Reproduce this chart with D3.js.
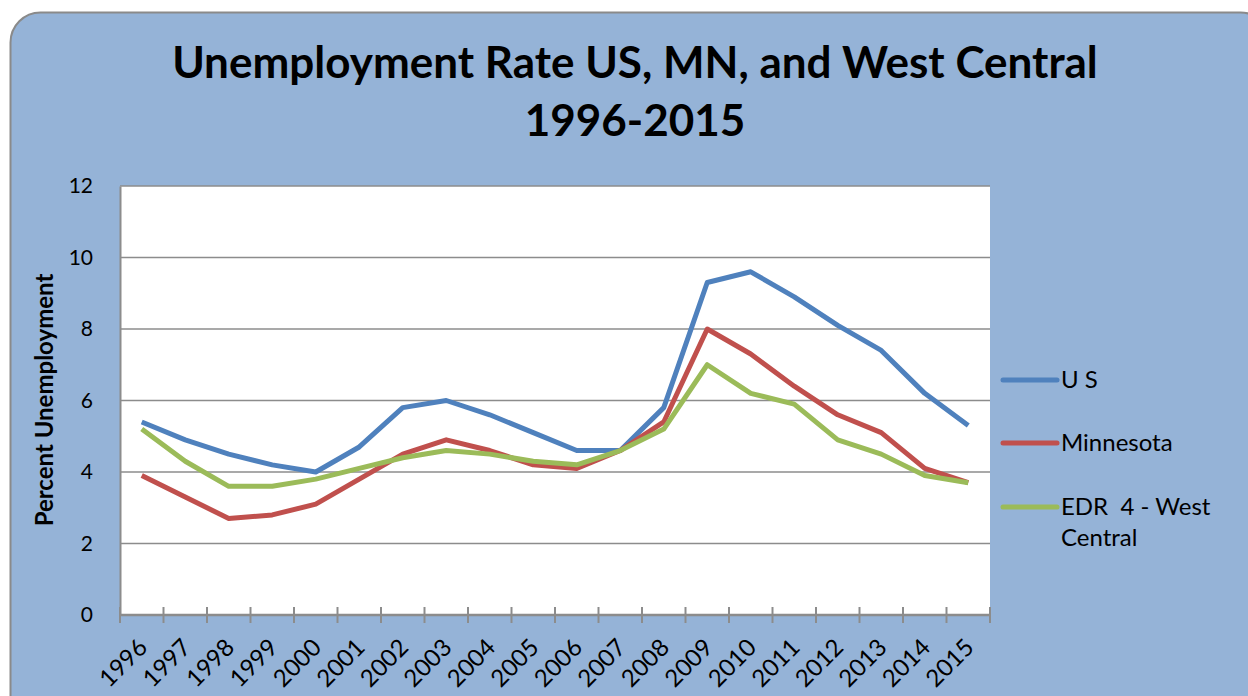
<!DOCTYPE html>
<html><head><meta charset="utf-8">
<script src="https://cdn.jsdelivr.net/npm/d3@7"></script>
<style>body{margin:0;background:#fff;}svg{display:block;font-family:Lato,"Open Sans",sans-serif;}</style>
</head><body>
<svg id="c" width="1248" height="696"></svg>
<script>
const years = ["1996","1997","1998","1999","2000","2001","2002","2003","2004","2005","2006","2007","2008","2009","2010","2011","2012","2013","2014","2015"];
const usValues = [5.4,4.9,4.5,4.2,4.0,4.7,5.8,6.0,5.6,5.1,4.6,4.6,5.8,9.3,9.6,8.9,8.1,7.4,6.2,5.3];
const mnValues = [3.9,3.3,2.7,2.8,3.1,3.8,4.5,4.9,4.6,4.2,4.1,4.6,5.4,8.0,7.3,6.4,5.6,5.1,4.1,3.7];
const wcValues = [5.2,4.3,3.6,3.6,3.8,4.1,4.4,4.6,4.5,4.3,4.2,4.6,5.2,7.0,6.2,5.9,4.9,4.5,3.9,3.7];
const seriesNames = ["U S","Minnesota","EDR  4 - West Central"];
const seriesColors = ["#4F81BD","#C0504D","#9BBB59"];
const yTicks = [0,2,4,6,8,10,12];
const titleLines = ["Unemployment Rate US, MN, and West Central","1996-2015"];
const yLabel = "Percent Unemployment";

const svg = d3.select("#c");
svg.append("rect").attr("x",10.5).attr("y",12.5).attr("width",1260).attr("height",720)
  .attr("rx",30).attr("fill","#95B3D7").attr("stroke","#8a8a8a").attr("stroke-width",2);

const L=120,R=990,T=186,B=615;
const x = d3.scaleBand().domain(years).range([L,R]).padding(0);
const y = d3.scaleLinear().domain([0,12]).range([B,T]);

svg.append("rect").attr("x",L).attr("y",T).attr("width",R-L).attr("height",B-T).attr("fill","#fff");

// gridlines
svg.append("g").selectAll("line").data(yTicks.filter(d=>d>0)).join("line")
  .attr("x1",L).attr("x2",R).attr("y1",d=>y(d)).attr("y2",d=>y(d))
  .attr("stroke","#8c8c8c").attr("stroke-width",1.5);

// y axis
const ya = svg.append("g").attr("transform",`translate(${L},0)`)
  .call(d3.axisLeft(y).tickValues(yTicks).tickSize(0).tickPadding(27));
ya.select(".domain").attr("stroke","#8c8c8c").attr("stroke-width",2);
ya.selectAll("text").attr("font-size",21).attr("fill","#000").attr("font-family","Lato,'Open Sans',sans-serif");

// x axis
const xa = svg.append("g").attr("transform",`translate(0,${B})`);
xa.append("line").attr("x1",L).attr("x2",R).attr("stroke","#8c8c8c").attr("stroke-width",2.5);
const edges = years.map(d=>x(d)).concat([R]);
xa.selectAll("line.tk").data(edges).join("line").attr("class","tk")
  .attr("x1",d=>d).attr("x2",d=>d).attr("y1",-8).attr("y2",8)
  .attr("stroke","#8c8c8c").attr("stroke-width",2);
xa.selectAll("text").data(years).join("text")
  .attr("transform",d=>`translate(${x(d)+x.bandwidth()/2+7},${34}) rotate(-45)`)
  .attr("text-anchor","end").attr("font-size",24).attr("fill","#000").text(d=>d);

// lines
const allSeries = [usValues,mnValues,wcValues];
const line = d3.line().x((d,i)=>x(years[i])+x.bandwidth()/2).y(d=>y(d));
allSeries.forEach((vals,k)=>{
  svg.append("path").datum(vals).attr("d",line).attr("fill","none")
    .attr("stroke",seriesColors[k]).attr("stroke-width",5).attr("stroke-linejoin","round");
});

// legend
const legY=[380,443,507];
seriesNames.forEach((n,k)=>{
  svg.append("line").attr("x1",1003).attr("x2",1057).attr("y1",legY[k]).attr("y2",legY[k])
    .attr("stroke",seriesColors[k]).attr("stroke-width",5).attr("stroke-linecap","round");
  const t = svg.append("text").attr("x",1061).attr("y",legY[k]+8).attr("font-size",24).attr("fill","#000");
  if(k===2){
    t.append("tspan").attr("x",1061).text("EDR\u00a0 4 - West");
    t.append("tspan").attr("x",1061).attr("dy",31).text("Central");
  } else t.text(n);
});

// title
svg.append("text").attr("x",635).attr("y",78).attr("text-anchor","middle").attr("font-size",44)
  .attr("font-weight","bold").attr("fill","#000").text(titleLines[0]);
svg.append("text").attr("x",635).attr("y",136).attr("text-anchor","middle").attr("font-size",44)
  .attr("font-weight","bold").attr("fill","#000").text(titleLines[1]);

// y label
svg.append("text").attr("transform","translate(53,400) rotate(-90)").attr("text-anchor","middle")
  .attr("font-size",24).attr("font-weight","bold").attr("fill","#000").text(yLabel);
</script>
</body></html>
